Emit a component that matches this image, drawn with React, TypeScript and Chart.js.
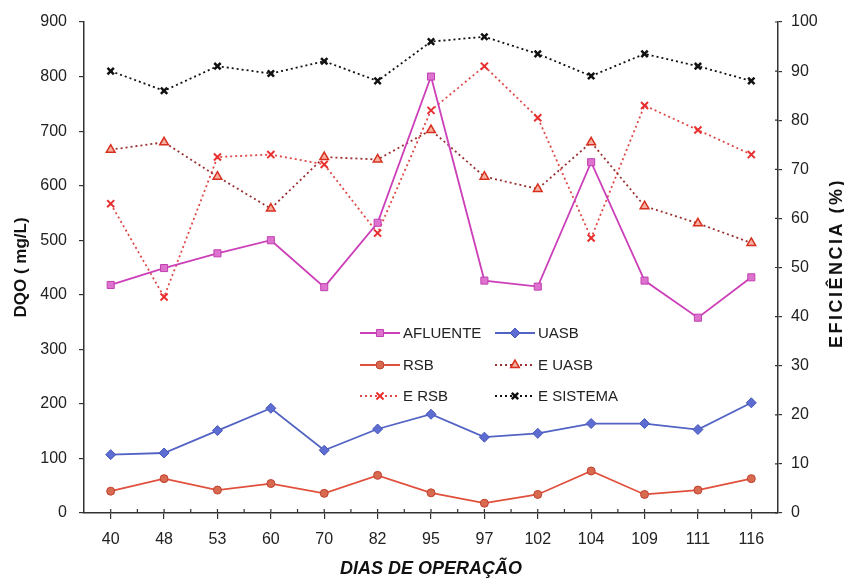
import React, { useEffect, useRef } from 'react';
import { Chart, registerables } from 'chart.js';
import { drawPoint } from 'chart.js/helpers';

Chart.register(...registerables);

const FONT = '"Liberation Sans", Arial, sans-serif';

const days = ['40', '48', '53', '60', '70', '82', '95', '97', '102', '104', '109', '111', '116'];
const afluente = [418, 449, 476, 500, 414, 532, 800, 426, 415, 643, 426, 358, 432];
const uasb = [107, 110, 151, 192, 115, 154, 181, 139, 146, 164, 164, 153, 202];
const rsb = [40, 63, 42, 54, 36, 69, 37, 18, 34, 77, 34, 42, 63];
const eUasb = [74, 75.5, 68.5, 62, 72.5, 72, 78, 68.5, 66, 75.5, 62.5, 59, 55];
const eRsb = [63, 44, 72.5, 73, 71, 57, 82, 91, 80.5, 56, 83, 78, 73];
const eSistema = [90, 86, 91, 89.5, 92, 88, 96, 97, 93.5, 89, 93.5, 91, 88];

const leftTicks = { min: 0, max: 900, step: 100 };
const rightTicks = { min: 0, max: 100, step: 10 };

export default function App() {
  const ref = useRef<HTMLCanvasElement>(null);

  useEffect(() => {
    const canvas = ref.current;
    if (!canvas) return;
    Chart.defaults.font.family = FONT;

    const legendPlugin = {
      id: 'customLegend',
      afterDatasetsDraw(chart: any) {
        const ctx = chart.ctx;
        const cols = [360, 495];
        const rows = [333, 365, 396];
        chart.data.datasets.forEach((ds: any, i: number) => {
          const x0 = cols[i % 2];
          const y = rows[Math.floor(i / 2)];
          ctx.save();
          ctx.strokeStyle = ds.borderColor;
          ctx.lineWidth = ds.borderWidth;
          ctx.setLineDash(ds.borderDash || []);
          ctx.beginPath();
          ctx.moveTo(x0, y);
          ctx.lineTo(x0 + 40, y);
          ctx.stroke();
          ctx.setLineDash([]);
          ctx.fillStyle = ds.pointBackgroundColor;
          ctx.strokeStyle = ds.pointBorderColor;
          ctx.lineWidth = ds.pointBorderWidth;
          drawPoint(ctx, { pointStyle: ds.pointStyle, radius: ds.pointRadius, borderWidth: ds.pointBorderWidth, rotation: 0 }, x0 + 20, y);
          ctx.fillStyle = '#222';
          ctx.font = `15px ${FONT}`;
          ctx.textBaseline = 'middle';
          ctx.textAlign = 'left';
          ctx.fillText(ds.label, x0 + 43, y + 1);
          ctx.restore();
        });
      },
    };

    const extrasPlugin = {
      id: 'extras',
      afterDraw(chart: any) {
        const ctx = chart.ctx;
        const { bottom, right } = chart.chartArea;
        const xs = chart.scales.x;
        const y1 = chart.scales.y1;
        ctx.save();
        ctx.strokeStyle = '#333';
        ctx.lineWidth = 1.2;
        ctx.beginPath();
        for (let i = 0; i < days.length; i++) {
          const px = xs.getPixelForValue(i);
          ctx.moveTo(px, bottom - 4);
          ctx.lineTo(px, bottom);
          const mid = xs.getPixelForValue(i + 0.5);
          if (i < days.length - 1) {
            ctx.moveTo(mid, bottom - 4);
            ctx.lineTo(mid, bottom);
          }
        }
        for (let v = rightTicks.min; v <= rightTicks.max; v += rightTicks.step) {
          const py = y1.getPixelForValue(v);
          ctx.moveTo(right - 3, py);
          ctx.lineTo(right, py);
        }
        ctx.stroke();
        // right axis title, reading bottom to top
        ctx.translate(837, 263);
        ctx.rotate(-Math.PI / 2);
        ctx.font = `bold 18px ${FONT}`;
        (ctx as any).letterSpacing = '2.5px';
        ctx.fillStyle = '#111';
        ctx.textAlign = 'center';
        ctx.textBaseline = 'middle';
        ctx.fillText('EFICIÊNCIA (%)', 0, 0);
        ctx.restore();
      },
    };

    const dotted = [2, 3];

    const chart = new Chart(canvas, {
      type: 'line',
      data: {
        labels: days,
        datasets: [
          {
            label: 'AFLUENTE', data: afluente, yAxisID: 'y',
            borderColor: '#cc3fb8', borderWidth: 1.8,
            pointStyle: 'rect', pointRadius: 5, pointBorderWidth: 1,
            pointBackgroundColor: '#de72cf', pointBorderColor: '#c040b0',
          },
          {
            label: 'UASB', data: uasb, yAxisID: 'y',
            borderColor: '#5363c4', borderWidth: 1.8,
            pointStyle: 'rectRot', pointRadius: 5, pointBorderWidth: 1,
            pointBackgroundColor: '#5d6dd2', pointBorderColor: '#4656b8',
          },
          {
            label: 'RSB', data: rsb, yAxisID: 'y',
            borderColor: '#e0503c', borderWidth: 1.8,
            pointStyle: 'circle', pointRadius: 4, pointBorderWidth: 1,
            pointBackgroundColor: '#d86a50', pointBorderColor: '#c04030',
          },
          {
            label: 'E UASB', data: eUasb, yAxisID: 'y1',
            borderColor: '#9a3030', borderWidth: 1.8, borderDash: dotted,
            pointStyle: 'triangle', pointRadius: 5, pointBorderWidth: 1.5,
            pointBackgroundColor: '#f6b0a0', pointBorderColor: '#d83020',
          },
          {
            label: 'E RSB', data: eRsb, yAxisID: 'y1',
            borderColor: '#e04848', borderWidth: 1.8, borderDash: dotted,
            pointStyle: 'crossRot', pointRadius: 5, pointBorderWidth: 2,
            pointBackgroundColor: '#e83030', pointBorderColor: '#e83030',
          },
          {
            label: 'E SISTEMA', data: eSistema, yAxisID: 'y1',
            borderColor: '#111111', borderWidth: 1.8, borderDash: dotted,
            pointStyle: 'crossRot', pointRadius: 4.5, pointBorderWidth: 2.5,
            pointBackgroundColor: '#111111', pointBorderColor: '#111111',
          },
        ],
      },
      options: {
        animation: false,
        responsive: true,
        maintainAspectRatio: false,
        layout: { padding: { top: 22, left: 0, right: 0, bottom: 0 } },
        plugins: { legend: { display: false }, tooltip: { enabled: false } },
        elements: { line: { tension: 0, fill: false } },
        scales: {
          x: {
            type: 'category',
            offset: true,
            grid: { display: true, drawOnChartArea: false, drawTicks: true, tickLength: 6, color: '#333', lineWidth: 1.2 },
            border: { color: '#333', width: 1.5 },
            ticks: { font: { size: 16, family: FONT }, color: '#222', padding: 11, maxRotation: 0, autoSkip: false },
            title: {
              display: true, text: 'DIAS DE OPERAÇÃO', color: '#111',
              font: { size: 18, weight: 'bold', style: 'italic', family: FONT },
              padding: { top: 0, bottom: 0 },
            },
            afterFit(s: any) { s.height = 67; },
          },
          y: {
            position: 'left',
            min: leftTicks.min, max: leftTicks.max,
            ticks: { stepSize: leftTicks.step, font: { size: 16, family: FONT }, color: '#222', padding: 12 },
            grid: { display: true, drawOnChartArea: false, drawTicks: true, tickLength: 5, color: '#333', lineWidth: 1.2 },
            border: { color: '#333', width: 1.5 },
            title: {
              display: true, text: 'DQO ( mg/L)', color: '#111',
              font: { size: 17, weight: 'bold', family: FONT },
              padding: { top: 11, bottom: 0 },
            },
            afterFit(s: any) { s.width = 84; },
          },
          y1: {
            position: 'right',
            min: rightTicks.min, max: rightTicks.max,
            ticks: { stepSize: rightTicks.step, font: { size: 16, family: FONT }, color: '#222', padding: 9 },
            grid: { display: true, drawOnChartArea: false, drawTicks: true, tickLength: 4, color: '#333', lineWidth: 1.2 },
            border: { color: '#333', width: 1.5, dash: [1.5, 2.5] },
            afterFit(s: any) { s.width = 66; },
          },
        },
      },
      plugins: [legendPlugin, extrasPlugin],
    } as any);

    return () => chart.destroy();
  }, []);

  return (
    <div style={{ position: 'fixed', left: 0, top: 0, width: 844, height: 580, background: '#fff' }}>
      <canvas ref={ref} />
    </div>
  );
}
